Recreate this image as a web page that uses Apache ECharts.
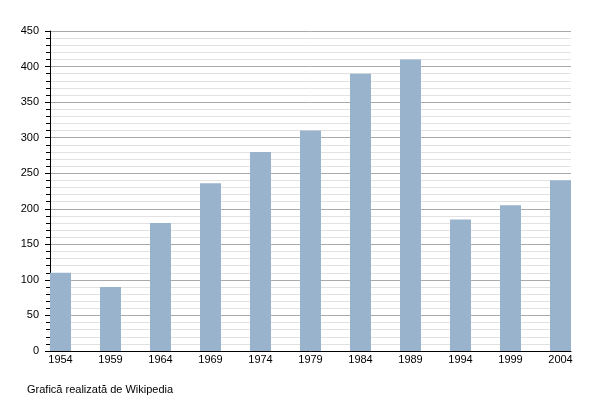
<!DOCTYPE html>
<html><head><meta charset="utf-8">
<script src="https://cdn.jsdelivr.net/npm/echarts@6/dist/echarts.min.js"></script>
<style>html,body{margin:0;padding:0;background:#fff}#c{width:600px;height:400px}</style>
</head><body><div id="c"></div>
<script>
const years = [1954, 1959, 1964, 1969, 1974, 1979, 1984, 1989, 1994, 1999, 2004];
const values = [110, 90, 180, 236, 280, 310, 390, 410, 185, 205, 240];
const yTicks = [0, 50, 100, 150, 200, 250, 300, 350, 400, 450];
const footer = 'Grafică realizată de Wikipedia';

const chart = echarts.init(document.getElementById('c'), null, {renderer: 'canvas'});
chart.setOption({
  animation: false,
  backgroundColor: '#fff',
  textStyle: {fontFamily: 'Liberation Sans, Arial, sans-serif'},
  title: {
    text: footer, left: 22, top: 379,
    textStyle: {fontSize: 11, fontWeight: 'normal', color: '#000', fontFamily: 'Liberation Sans, Arial, sans-serif'}
  },
  grid: {left: 50, right: 29, top: 31, bottom: 49, containLabel: false},
  xAxis: {
    type: 'value', min: 1952.95, max: 2005.05,
    splitLine: {show: false},
    axisLine: {show: true, onZero: false, lineStyle: {color: '#000', width: 1}},
    axisTick: {show: false},
    axisLabel: {customValues: years, color: '#000', fontSize: 11, margin: 3, formatter: v => String(v)}
  },
  yAxis: {
    type: 'value', min: yTicks[0], max: yTicks[yTicks.length - 1], interval: 50,
    axisLine: {show: true, lineStyle: {color: '#000', width: 1}},
    axisTick: {show: true, length: 5, lineStyle: {color: '#000'}},
    minorTick: {show: true, splitNumber: 5, length: 4, lineStyle: {color: '#000'}},
    splitLine: {show: true, lineStyle: {color: '#aaaaaa', width: 1}},
    minorSplitLine: {show: true, lineStyle: {color: '#e2e2e2', width: 1}},
    axisLabel: {color: '#000', fontSize: 11, margin: 11}
  },
  series: [{
    type: 'bar', barWidth: 21,
    itemStyle: {color: '#9ab3cd'},
    data: years.map((y, i) => [y, values[i]])
  }]
});
</script></body></html>
